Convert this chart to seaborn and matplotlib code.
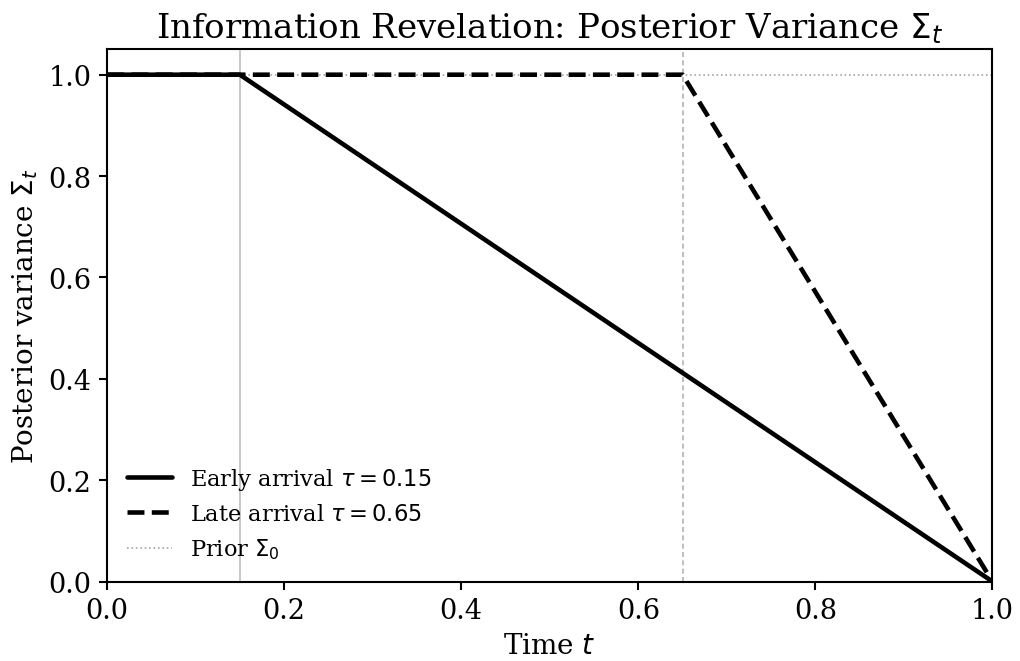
import matplotlib
matplotlib.use("Agg")
import matplotlib.pyplot as plt
import pandas as pd
import seaborn as sns

# Data
t_early = [0.0, 0.15, 1.0]
sigma_early = [1.0, 1.0, 0.0]
t_late = [0.0, 0.65, 1.0]
sigma_late = [1.0, 1.0, 0.0]
prior_sigma = 1.0
tau_early = 0.15
tau_late = 0.65

df_early = pd.DataFrame({"t": t_early, "sigma": sigma_early})
df_late = pd.DataFrame({"t": t_late, "sigma": sigma_late})

sns.set_style("ticks", {"axes.edgecolor": "black", "text.color": "black",
                        "axes.labelcolor": "black", "xtick.color": "black",
                        "ytick.color": "black"})
plt.rcParams["font.family"] = ["DejaVu Serif"]
plt.rcParams["mathtext.fontset"] = "dejavusans"

fig, ax = plt.subplots(figsize=(6.8, 4.413), dpi=150)

ax.axvline(tau_early, color="0.75", lw=0.8, ls="-", zorder=1)
ax.axvline(tau_late, color="0.7", lw=0.8, ls="--", dashes=(3, 2), zorder=1)

sns.lineplot(data=df_early, x="t", y="sigma", ax=ax, color="black", lw=2.2,
             label=r"Early arrival $\tau = 0.15$", zorder=3)
sns.lineplot(data=df_late, x="t", y="sigma", ax=ax, color="black", lw=2.2,
             label=r"Late arrival $\tau = 0.65$", zorder=3)
ax.lines[-1].set_linestyle("--")
ax.axhline(prior_sigma, color="0.65", lw=0.8, ls=":", label=r"Prior $\Sigma_0$", zorder=2)

ax.set_xlim(0, 1)
ax.set_ylim(0, 1.05)
ax.set_xticks([0, 0.2, 0.4, 0.6, 0.8, 1.0])
ax.set_yticks([0, 0.2, 0.4, 0.6, 0.8, 1.0])
ax.tick_params(labelsize=13, length=4, width=1.0, colors="black")
for s in ax.spines.values():
    s.set_linewidth(1.0)
ax.set_title(r"Information Revelation: Posterior Variance $\Sigma_t$", fontsize=16.3)
ax.set_xlabel(r"Time $t$", fontsize=13.3)
ax.set_ylabel(r"Posterior variance $\Sigma_t$", fontsize=13.3)

leg = ax.legend(loc="lower left", frameon=False, fontsize=10.8)
leg.get_lines()[1].set_linestyle("--")

fig.subplots_adjust(left=0.105, right=0.973, top=0.924, bottom=0.12)
fig.savefig("out.png", dpi=150)
